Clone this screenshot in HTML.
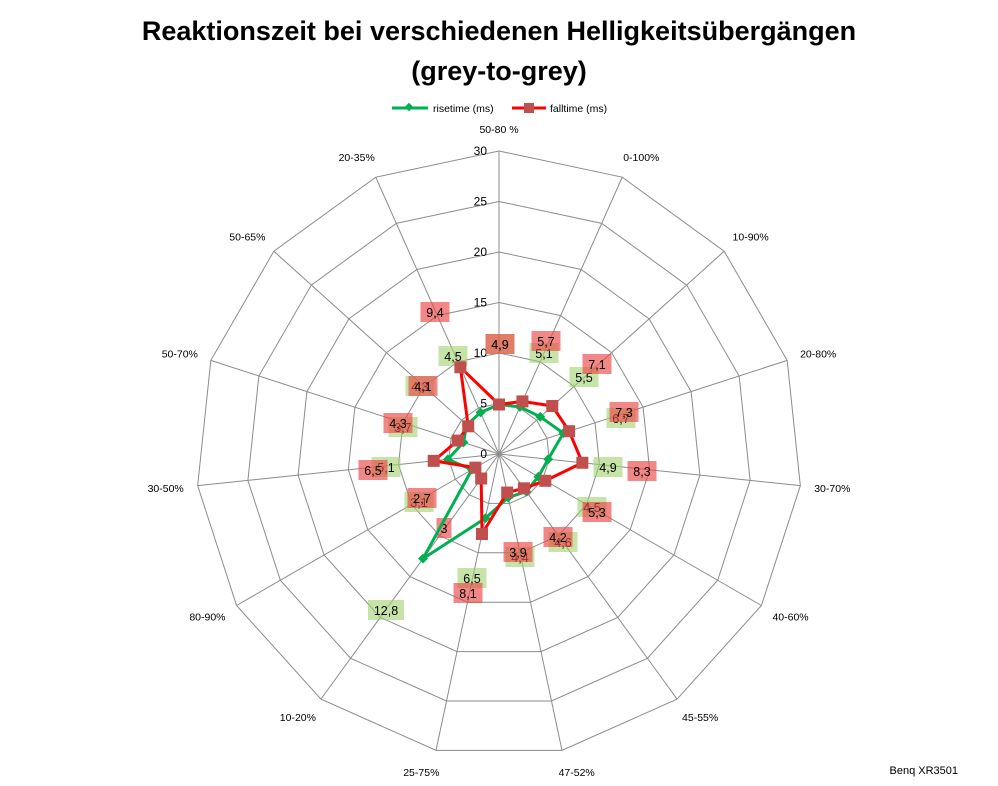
<!DOCTYPE html>
<html><head><meta charset="utf-8"><style>
html,body{margin:0;padding:0;background:#fff;}
svg{display:block;font-family:"Liberation Sans",sans-serif;}
</style></head><body>
<svg id="c" width="998" height="786">
<text x="499" y="40" text-anchor="middle" font-size="27" font-weight="bold">Reaktionszeit bei verschiedenen Helligkeitsübergängen</text>
<text x="499" y="80" text-anchor="middle" font-size="27" font-weight="bold">(grey-to-grey)</text>
<g>
<g>
<line x1="392" y1="108" x2="428" y2="108" stroke="#00b050" stroke-width="3"/>
<rect x="406" y="104" width="6" height="6" fill="#00b050" transform="rotate(45 409 107)"/>
<text x="433" y="112" font-size="10.5">risetime (ms)</text></g>
<g>
<line x1="512" y1="108" x2="546" y2="108" stroke="#ff0000" stroke-width="3"/>
<rect x="524" y="103" width="10" height="10" fill="#c0504d"/>
<text x="550" y="112" font-size="10.5">falltime (ms)</text></g>
</g>
<g id="grid"></g>
<g id="dl"></g>
<g id="series"></g>
<text x="958" y="774" text-anchor="end" font-size="11">Benq XR3501</text>
</svg>
<script>
const categories=["50-80 %","0-100%","10-90%","20-80%","30-70%","40-60%","45-55%","47-52%","25-75%","10-20%","80-90%","30-50%","50-70%","50-65%","20-35%"];
const riseValues=[4.9,5.1,5.5,6.7,4.9,4.5,4.6,4.4,6.5,12.8,3.1,5.1,3.7,4.3,4.5];
const fallValues=[4.9,5.7,7.1,7.3,8.3,5.3,4.2,3.9,8.1,3,2.7,6.5,4.3,4.1,9.4];
const tickValues=[0,5,10,15,20,25,30];
const NS="http://www.w3.org/2000/svg";
const cx=499,cy=454,R=303,maxV=30;
const n=categories.length;
function ang(i){return i*2*Math.PI/n;}
function pt(i,v){const a=ang(i),r=v/maxV*R;return [cx+r*Math.sin(a),cy-r*Math.cos(a)];}
function mk(tag,attrs,parent){const e=document.createElementNS(NS,tag);for(const k in attrs)e.setAttribute(k,attrs[k]);parent.appendChild(e);return e;}
const grid=document.getElementById('grid');
tickValues.forEach(t=>{if(t===0)return;
 const p=categories.map((c,i)=>pt(i,t).join(',')).join(' ');
 const e=mk('polygon',{points:p,fill:'none',stroke:'#8c8c8c','stroke-width':1},grid);
 
 
});
categories.forEach((c,i)=>{const [x,y]=pt(i,maxV);
 const l=mk('line',{x1:cx,y1:cy,x2:x,y2:y,stroke:'#8c8c8c','stroke-width':1},grid);
 
 
 const a=ang(i),s=Math.sin(a),co=Math.cos(a);
 const lx=cx+(R+22)*s, ly=cy-(R+22)*co+4;
 const anchor=Math.abs(s)<0.2?'middle':(s>0?'start':'end');
 const t=mk('text',{x:lx+(anchor==='start'?-8:anchor==='end'?8:0),y:ly,'text-anchor':anchor,'font-size':10.5},grid);
 t.textContent=c;
 
 
});
tickValues.forEach(t=>{const [x,y]=pt(0,t);
 const e=mk('text',{x:x-12,y:y+4,'text-anchor':'end','font-size':12},grid);
 e.textContent=t;
 
 
});
// data label layout (box centres)
const riseLabelPos=[[500,344],[544,353],[584,377],[621,418],[608,467],[592,507],[563,542],[520,557],[472,578],[386,610],[419,502],[386,467],[403,427],[420,386],[453,356]];
const fallLabelPos=[[500,344],[546,341],[597,364],[624,412],[642,471],[597,512],[558,537],[518,552],[468,593],[444,528],[422,498],[373,470],[398,423],[423,386],[435,312]];
const dl=document.getElementById('dl');
function lab(v,pos,fill,name){const s=String(v).replace('.',',');const w=s.length*7+8;
 const g=mk('g',{},dl);
 
 
 mk('rect',{x:pos[0]-w/2,y:pos[1]-10,width:w,height:20,fill:fill},g);
 const t=mk('text',{x:pos[0],y:pos[1]+5,'text-anchor':'middle','font-size':12.5},g);t.textContent=s;}
riseValues.forEach((v,i)=>lab(v,riseLabelPos[i],'rgba(160,210,110,0.6)','rise-data-label'));
fallValues.forEach((v,i)=>lab(v,fallLabelPos[i],'rgba(235,70,70,0.65)','fall-data-label'));
const sg=document.getElementById('series');
function series(vals,color,name,marker){
 const p=vals.map((v,i)=>pt(i,v).join(',')).join(' ');
 const pl=mk('polygon',{points:p,fill:'none',stroke:color,'stroke-width':3,'stroke-linejoin':'round'},sg);
 
 
 vals.forEach((v,i)=>{const [x,y]=pt(i,v);let m;
  if(marker==='d'){m=mk('rect',{x:x-3.5,y:y-3.5,width:7,height:7,fill:'#00b050',transform:`rotate(45 ${x} ${y})`},sg);}
  else{m=mk('rect',{x:x-6,y:y-6,width:12,height:12,fill:'#c0504d'},sg);}
  
  
 });
}
series(riseValues,'#00b050','risetime','d');
series(fallValues,'#ff0000','falltime','s');
</script>
</body></html>
